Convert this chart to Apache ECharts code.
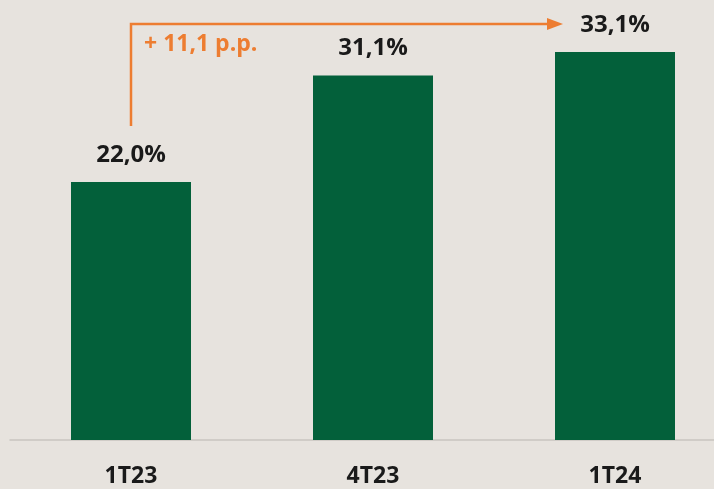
<!DOCTYPE html>
<html>
<head>
<meta charset="utf-8">
<script src="https://cdn.jsdelivr.net/npm/echarts@6/dist/echarts.min.js"></script>
<style>
  html, body { margin: 0; padding: 0; background: #e7e3de; }
  #chart { width: 714px; height: 489px; }
</style>
</head>
<body>
<div id="chart"></div>
<script>
const categories = ["1T23", "4T23", "1T24"];
const shareValues = [22.0, 31.1, 33.1];
const deltaText = "+ 11,1 p.p.";

const chart = echarts.init(document.getElementById("chart"));

const fmt = v => v.toFixed(1).replace(".", ",") + "%";

const option = {
  backgroundColor: "#e7e3de",
  animation: false,
  grid: { left: 10, width: 726, top: 18, bottom: 49, outerBoundsMode: "none", containLabel: false },
  xAxis: {
    type: "category",
    data: categories,
    axisTick: { show: false },
    axisLine: { lineStyle: { color: "#c9c5c0", width: 1.5 } },
    axisLabel: {
      margin: 25,
      color: "#1a1a1a",
      fontFamily: "Open Sans",
      fontWeight: "bold",
      fontSize: 23
    }
  },
  yAxis: {
    type: "value",
    min: 0,
    max: 36,
    show: false,
    splitLine: { show: false }
  },
  series: [{
    type: "bar",
    data: shareValues,
    barWidth: 120,
    itemStyle: { color: "#03603a" },
    label: {
      show: true,
      position: "top",
      distance: 15,
      color: "#1a1a1a",
      fontFamily: "Open Sans",
      fontWeight: "bold",
      fontSize: 24,
      formatter: p => fmt(p.value)
    }
  }]
};
chart.setOption(option);

// orange bracket arrow from first bar to last bar
const p0 = chart.convertToPixel({ seriesIndex: 0 }, [0, shareValues[0]]);
const p2 = chart.convertToPixel({ seriesIndex: 0 }, [2, shareValues[2]]);
const yTop = p2[1] - 28;
const yBottom = p0[1] - 56;
const xEnd = p2[0] - 52;
const orange = "#ed7d31";

chart.setOption({
  graphic: [
    {
      type: "polyline",
      shape: { points: [[p0[0], yBottom], [p0[0], yTop], [xEnd - 14, yTop]] },
      style: { stroke: orange, lineWidth: 2.5, fill: null }
    },
    {
      type: "polygon",
      shape: { points: [[xEnd - 16, yTop - 6], [xEnd, yTop], [xEnd - 16, yTop + 6]] },
      style: { fill: orange }
    },
    {
      type: "text",
      x: p0[0] + 13,
      y: yTop + 20,
      style: {
        text: deltaText,
        fill: orange,
        font: "bold 23px 'Open Sans'",
        verticalAlign: "middle"
      }
    }
  ]
});
</script>
</body>
</html>
